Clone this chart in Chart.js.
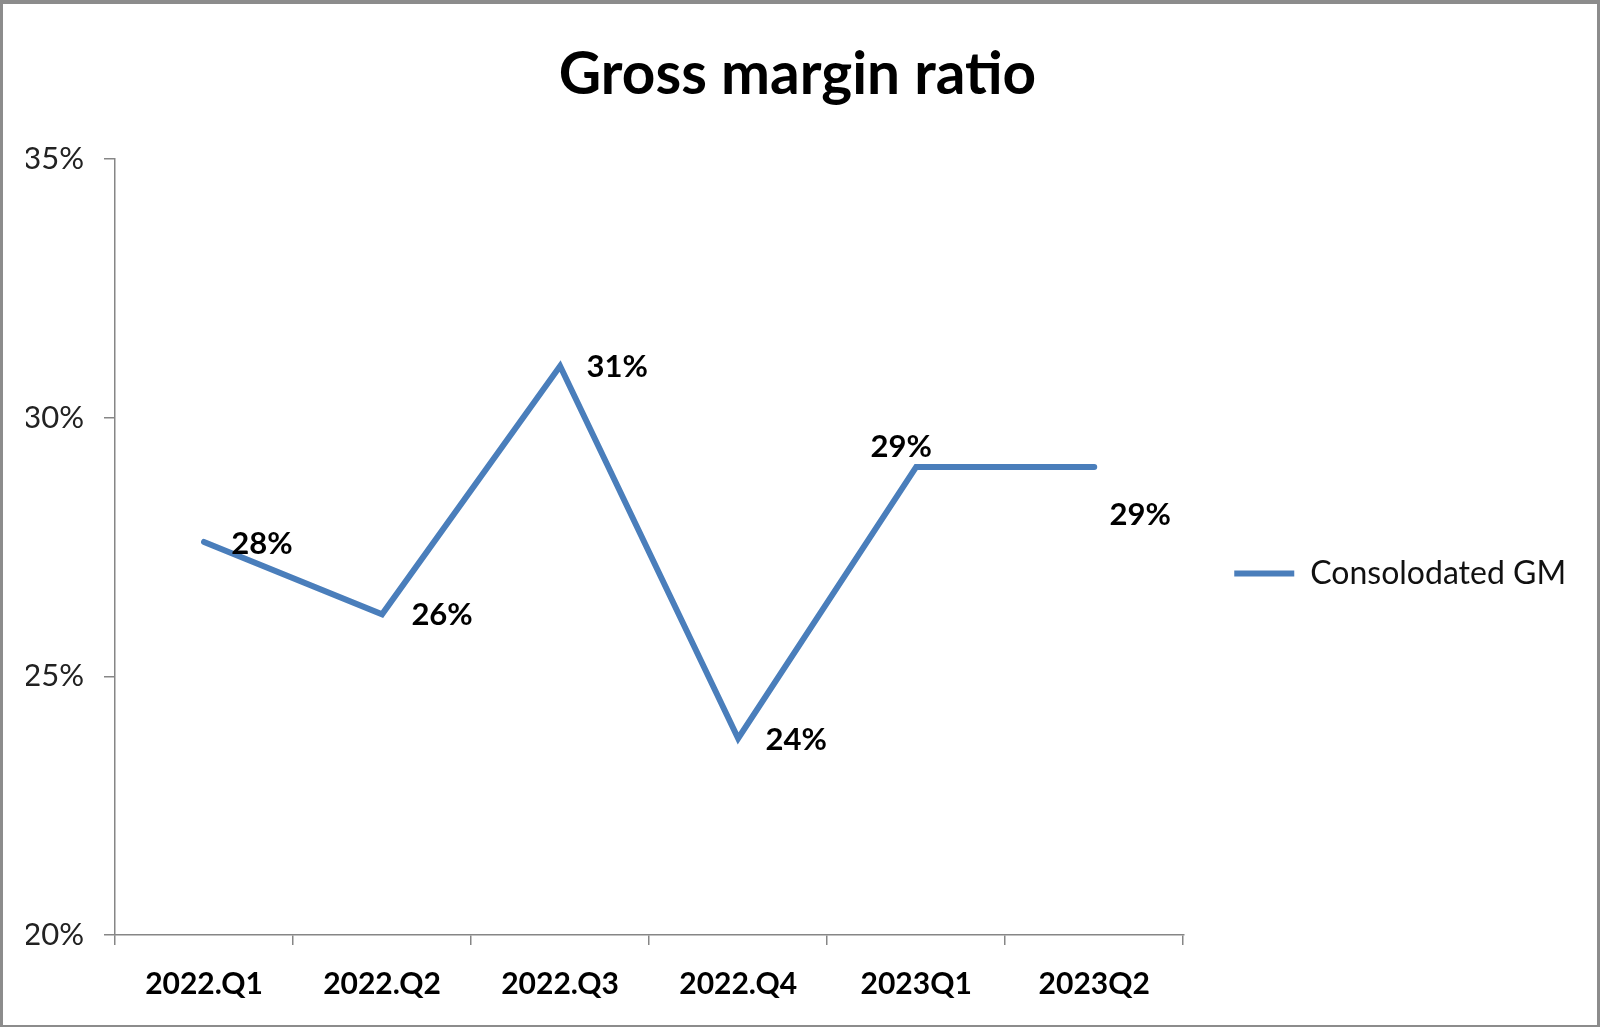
<!DOCTYPE html>
<html>
<head>
<meta charset="utf-8">
<script src="https://cdn.jsdelivr.net/npm/chart.js@4"></script>
<style>
  html, body { margin: 0; padding: 0; background: #fff; }
  #wrap { width: 1600px; height: 1027px; }
</style>
</head>
<body>
<div id="wrap"><canvas id="gmChart" width="1600" height="1027"></canvas></div>
<script>
/* ===============================
   Data
================================*/
const quarters = ["2022.Q1", "2022.Q2", "2022.Q3", "2022.Q4", "2023Q1", "2023Q2"];
const consolidatedGM = [27.6, 26.2, 31.0, 23.8, 29.05, 29.05];
const yTicks = [20, 25, 30, 35];

// where each value label sits relative to its point (px)
const labelOffsets = [[58, 2], [60, 1], [57, 1], [58, 2], [-15, -20], [46, 48]];

const FONT = "Lato, 'Open Sans', sans-serif";
const AXIS_GREY = "#868686";

/* ===============================
   Plugins: frame + value labels
================================*/
const framePlugin = {
  id: "frame",
  beforeDraw(chart) {
    const ctx = chart.ctx;
    ctx.save();
    ctx.fillStyle = "#ffffff";
    ctx.fillRect(0, 0, chart.width, chart.height);
    ctx.restore();
  },
  afterDraw(chart) {
    const ctx = chart.ctx;
    const w = chart.width, h = chart.height;
    ctx.save();
    ctx.fillStyle = "#8c8c8c";
    ctx.fillRect(0, 0, w, 4);
    ctx.fillRect(0, 0, 3, h);
    ctx.fillRect(w - 3, 0, 3, h);
    ctx.fillRect(0, h - 2, w, 2);
    ctx.restore();
  }
};

const valueLabels = {
  id: "valueLabels",
  afterDatasetsDraw(chart) {
    const ctx = chart.ctx;
    const meta = chart.getDatasetMeta(0);
    ctx.save();
    ctx.font = "bold 31px " + FONT;
    ctx.fillStyle = "#000";
    ctx.textAlign = "center";
    ctx.textBaseline = "middle";
    meta.data.forEach((pt, i) => {
      const off = labelOffsets[i] || [0, 0];
      ctx.fillText(Math.round(consolidatedGM[i]) + "%", pt.x + off[0], pt.y + off[1]);
    });
    ctx.restore();
  }
};

/* ===============================
   Chart
================================*/
new Chart(document.getElementById("gmChart"), {
  type: "line",
  data: {
    labels: quarters,
    datasets: [{
      label: "Consolodated GM",
      data: consolidatedGM,
      borderColor: "#4a7ebb",
      backgroundColor: "#4a7ebb",
      borderWidth: 6,
      borderCapStyle: "round",
      borderJoinStyle: "miter",
      pointRadius: 0,
      tension: 0,
      fill: false
    }]
  },
  options: {
    responsive: false,
    animation: false,
    // left padding balances the right one so the title sits near the page centre
    layout: { padding: { top: 0, left: 26, right: 31, bottom: 0 } },
    plugins: {
      tooltip: { enabled: false },
      title: {
        display: true,
        text: "Gross margin ratio",
        color: "#000",
        font: { family: FONT, size: 58.5, weight: "bold", lineHeight: 1.2 },
        padding: { top: 40, bottom: 49 }
      },
      legend: {
        position: "right",
        align: "center",
        title: { display: true, text: " ", font: { size: 10, lineHeight: 1.2 }, padding: { top: 108, bottom: 0 } },
        labels: {
          usePointStyle: true,
          pointStyle: "line",
          pointStyleWidth: 60,
          padding: 51,
          color: "#111",
          font: { family: FONT, size: 32 }
        }
      }
    },
    scales: {
      x: {
        offset: true,
        grid: { offset: true, drawOnChartArea: false, drawTicks: true, tickLength: 10, color: AXIS_GREY, lineWidth: 1.5 },
        border: { color: AXIS_GREY, width: 1.5 },
        ticks: { color: "#000", padding: 21, maxRotation: 0, font: { family: FONT, size: 30, weight: "bold", lineHeight: 1.2 } },
        afterFit(scale) { scale.height = 92; }
      },
      y: {
        min: 20,
        max: 35,
        afterBuildTicks(scale) { scale.ticks = yTicks.map(v => ({ value: v })); },
        grid: { drawOnChartArea: false, drawTicks: true, tickLength: 11, color: AXIS_GREY, lineWidth: 1.5 },
        border: { color: AXIS_GREY, width: 1.5 },
        ticks: {
          color: "#222",
          padding: 20,
          font: { family: FONT, size: 31 },
          callback: (v) => v + "%"
        },
        afterFit(scale) { scale.width = 89; }
      }
    }
  },
  plugins: [framePlugin, valueLabels]
});
</script>
</body>
</html>
